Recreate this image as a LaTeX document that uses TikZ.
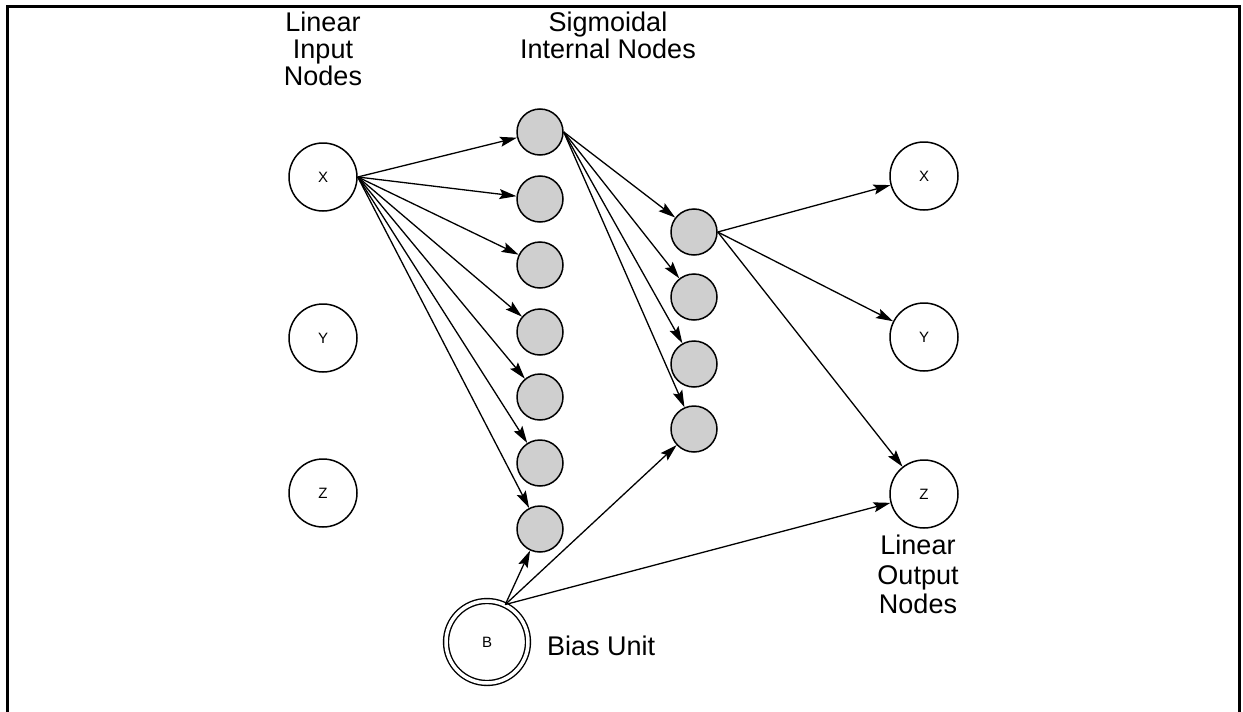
\documentclass[tikz,border=0pt]{standalone}
\usepackage{fontspec}
\setmainfont{Liberation Sans}
\usetikzlibrary{arrows.meta}
\begin{document}
\begin{tikzpicture}[x=1pt,y=-1pt,
  io/.style={circle,draw=black,line width=1.5pt,minimum size=68pt,inner sep=0pt,font=\fontsize{15}{15}\selectfont},
  hid/.style={circle,draw=black,fill=black!19,line width=1.5pt,minimum size=46pt,inner sep=0pt},
  biasnode/.style={circle,draw=black,double,double distance=3.5pt,line width=1.4pt,minimum size=82pt,inner sep=0pt,font=\fontsize{15}{15}\selectfont},
  conn/.style={line width=1.3pt,-{Stealth[length=17pt,width=10pt,inset=3pt]}},
  lbl/.style={align=center,inner sep=0pt,font=\fontsize{27}{27}\selectfont},
  lblb/.style={align=center,inner sep=0pt,font=\fontsize{27}{29.5}\selectfont}
]
\useasboundingbox (0,0) rectangle (1243,712);
\draw[line width=2.6pt] (7.5,712) -- (7.5,6.5) -- (1239.5,6.5) -- (1239.5,712);

% input nodes
\node[io] (ix) at (323,177) {X};
\node[io] (iy) at (323,338) {Y};
\node[io] (iz) at (323,493) {Z};

% hidden layer 1
\node[hid] (a1) at (540,132) {};
\node[hid] (a2) at (540,199) {};
\node[hid] (a3) at (540,265) {};
\node[hid] (a4) at (540,332) {};
\node[hid] (a5) at (540,397) {};
\node[hid] (a6) at (540,463) {};
\node[hid] (a7) at (540,529) {};

% hidden layer 2
\node[hid] (b1) at (694,232) {};
\node[hid] (b2) at (694,297) {};
\node[hid] (b3) at (694,364) {};
\node[hid] (b4) at (694,429) {};

% output nodes
\node[io] (ox) at (924,176) {X};
\node[io] (oy) at (924,337) {Y};
\node[io] (oz) at (924,494) {Z};

% bias
\node[biasnode] (bias) at (487,642) {B};

% labels
\node[lbl,anchor=north] (l1) at (323,12) {Linear\\Input\\Nodes};
\node[lbl,anchor=north] (l2) at (608,12) {Sigmoidal\\Internal Nodes};
\node[lblb,anchor=north] (l3) at (918,535) {Linear\\Output\\Nodes};
\node[lbl,anchor=base west] (l4) at (547,655) {Bias Unit};

% connectors
\foreach \t in {a1,a2,a3,a4,a5,a6,a7} \draw[conn] (ix.east) -- (\t);
\foreach \t in {b1,b2,b3,b4} \draw[conn] (a1.east) -- (\t);
\foreach \t in {ox,oy,oz} \draw[conn] (b1.east) -- (\t);
\coordinate (bp) at (bias.64);
\foreach \t in {a7,b4,oz} \draw[conn] (bp) -- (\t);
\end{tikzpicture}
\end{document}
